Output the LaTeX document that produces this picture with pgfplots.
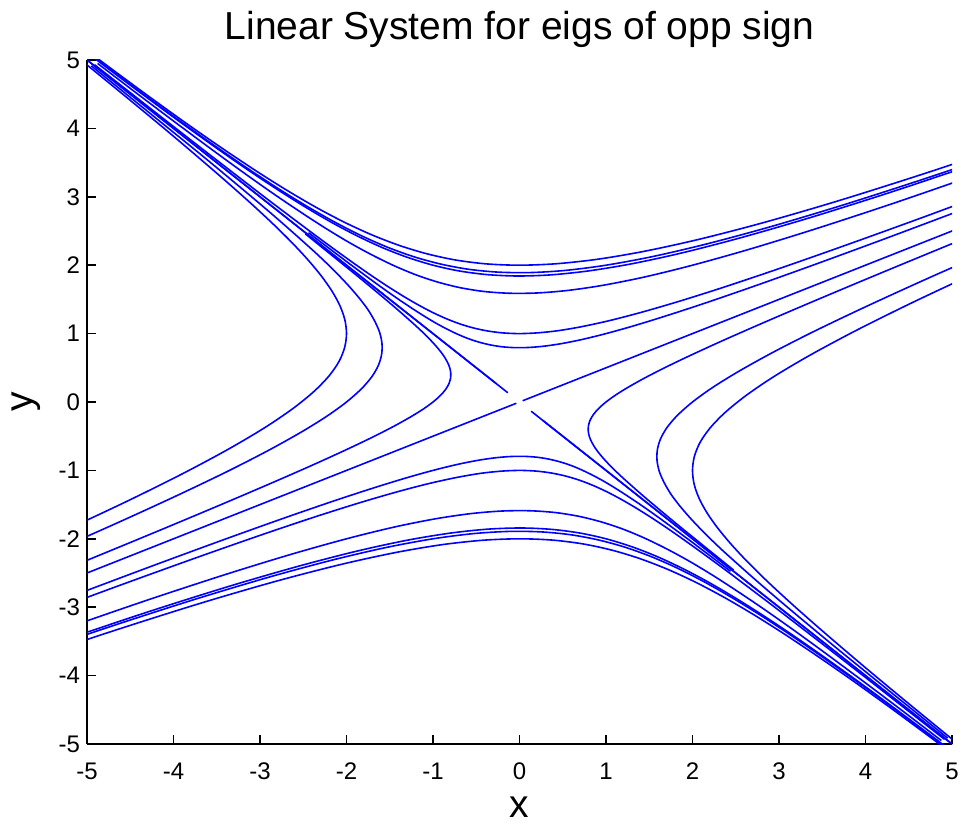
\documentclass[border=0pt]{standalone}
\usepackage{fontspec}
\setmainfont{Liberation Sans}
\usepackage{pgfplots}
\pgfplotsset{compat=1.18}
\begin{document}
\begin{tikzpicture}
\begin{axis}[
  scale only axis, width=432.5pt, height=342pt,
  xmin=-5, xmax=5, ymin=-5, ymax=5,
  axis x line*=bottom, axis y line*=left,
  axis line style={black, line width=0.8pt},
  tick align=inside, major tick length=4.5pt,
  tick style={black, line width=0.8pt},
  xtick={-5,-4,-3,-2,-1,0,1,2,3,4,5}, ytick={-5,-4,-3,-2,-1,0,1,2,3,4,5},
  xticklabels={-5,-4,-3,-2,-1,0,1,2,3,4,5},
  yticklabels={-5,-4,-3,-2,-1,0,1,2,3,4,5},
  tick label style={font=\fontsize{12}{14}\selectfont},
  xticklabel style={yshift=-6pt},
  title={Linear System for eigs of opp sign},
  every axis title/.style={at={(0.5,1)}, anchor=base, yshift=10.4pt, font=\fontsize{19.5}{23}\selectfont},
  xlabel={x},
  every axis x label/.style={at={(0.5,0)}, anchor=base, yshift=-36.5pt, inner sep=0pt, font=\fontsize{19.5}{23}\selectfont},
  cycle list={{blue, solid, line width=0.8pt, smooth, mark=none}},
  every axis plot post/.append style={blue, solid, line width=0.8pt, smooth, mark=none},
  after end axis/.code={\node[rotate=90, anchor=base, inner sep=0pt, font=\fontsize{19.5}{23}\selectfont] at ([xshift=-27pt]rel axis cs:0,0.5) {y};},
]
% stable manifold
\addplot coordinates {(-5.5,5.5) (-0.271,0.271)};
\addplot coordinates {(-5.5,5.5) (-0.135,0.135)};
\addplot coordinates {(5.5,-5.5) (0.271,-0.271)};
\addplot coordinates {(5.5,-5.5) (0.135,-0.135)};
% unstable manifold
\addplot coordinates {(0.0366,0.0183) (5.5,2.75)};
\addplot coordinates {(-0.0366,-0.0183) (-5.5,-2.75)};
% (0,2)
\addplot coordinates {(-5.326,5.447) (-4.793,4.942) (-4.306,4.487) (-3.858,4.079) (-3.444,3.715) (-3.059,3.390) (-2.698,3.102) (-2.356,2.849) (-2.028,2.630) (-1.708,2.444) (-1.390,2.289) (-1.068,2.166) (-0.735,2.075) (-0.382,2.019) (0,2) (0.422,2.021) (0.897,2.086) (1.442,2.203) (2.074,2.378) (2.816,2.621) (3.695,2.945) (4.745,3.366) (6.005,3.901)};
% (1,2)
\addplot coordinates {(-5.407,5.507) (-4.872,4.994) (-4.382,4.531) (-3.934,4.116) (-3.521,3.744) (-3.139,3.411) (-2.783,3.115) (-2.448,2.854) (-2.129,2.625) (-1.822,2.427) (-1.521,2.260) (-1.220,2.123) (-0.913,2.017) (-0.593,1.941) (-0.252,1.899) (0.119,1.892) (0.532,1.924) (1,2) (1.538,2.126) (2.165,2.311) (2.903,2.563) (3.781,2.896) (4.830,3.325) (6.092,3.869)};
% (-1,2)
\addplot coordinates {(-5.473,5.564) (-4.933,5.044) (-4.440,4.576) (-3.989,4.154) (-3.575,3.777) (-3.192,3.438) (-2.836,3.137) (-2.503,2.871) (-2.187,2.636) (-1.884,2.433) (-1.589,2.259) (-1.296,2.115) (-1,2) (-0.694,1.915) (-0.370,1.862) (-0.020,1.842) (0.367,1.859) (0.801,1.917) (1.299,2.021) (1.876,2.179) (2.553,2.400) (3.356,2.694) (4.313,3.076) (5.462,3.563)};
% (2,2)
\addplot coordinates {(-4.877,4.950) (-4.398,4.487) (-3.960,4.070) (-3.560,3.694) (-3.193,3.356) (-2.855,3.054) (-2.541,2.785) (-2.248,2.545) (-1.972,2.334) (-1.707,2.151) (-1.451,1.993) (-1.199,1.860) (-0.945,1.753) (-0.685,1.671) (-0.412,1.616) (-0.118,1.590) (0.204,1.594) (0.564,1.632) (0.973,1.708) (1.447,1.828) (2,2) (2.654,2.232) (3.432,2.535) (4.365,2.923) (5.488,3.414)};
% (0,1)
\addplot coordinates {(-4.914,4.932) (-4.442,4.465) (-4.015,4.042) (-3.627,3.660) (-3.275,3.316) (-2.955,3.004) (-2.663,2.724) (-2.397,2.471) (-2.153,2.244) (-1.929,2.040) (-1.722,1.857) (-1.530,1.695) (-1.349,1.551) (-1.178,1.425) (-1.014,1.315) (-0.854,1.222) (-0.695,1.144) (-0.534,1.083) (-0.367,1.038) (-0.191,1.010) (0,1) (0.211,1.011) (0.449,1.043) (0.721,1.102) (1.037,1.189) (1.408,1.311) (1.848,1.473) (2.373,1.683) (3.003,1.951) (3.762,2.288) (4.681,2.708) (5.795,3.230)};
% (1,1)
\addplot coordinates {(-2.439,2.475) (-2.199,2.244) (-1.980,2.035) (-1.780,1.847) (-1.597,1.678) (-1.428,1.527) (-1.271,1.393) (-1.124,1.273) (-0.986,1.167) (-0.854,1.076) (-0.726,0.997) (-0.600,0.930) (-0.473,0.877) (-0.343,0.836) (-0.206,0.808) (-0.059,0.795) (0.102,0.797) (0.282,0.816) (0.487,0.854) (0.723,0.914) (1,1) (1.327,1.116) (1.716,1.268) (2.183,1.462) (2.744,1.707) (3.422,2.014) (4.244,2.396) (5.241,2.869)};
% (1,0)
\addplot coordinates {(2.475,-2.457) (2.244,-2.221) (2.035,-2.007) (1.847,-1.814) (1.678,-1.637) (1.527,-1.477) (1.392,-1.331) (1.273,-1.198) (1.167,-1.077) (1.075,-0.965) (0.996,-0.861) (0.930,-0.765) (0.876,-0.675) (0.836,-0.589) (0.808,-0.507) (0.795,-0.427) (0.797,-0.348) (0.816,-0.267) (0.854,-0.184) (0.914,-0.096) (1,0) (1.116,0.106) (1.267,0.224) (1.462,0.361) (1.707,0.519) (2.014,0.704) (2.396,0.924) (2.869,1.186) (3.452,1.501) (4.169,1.881) (5.049,2.340) (6.128,2.897)};
% (2,0)
\addplot coordinates {(4.950,-4.914) (4.488,-4.442) (4.070,-4.014) (3.694,-3.628) (3.356,-3.274) (3.054,-2.954) (2.784,-2.662) (2.546,-2.396) (2.334,-2.154) (2.150,-1.930) (1.992,-1.722) (1.860,-1.530) (1.752,-1.350) (1.672,-1.178) (1.616,-1.014) (1.590,-0.854) (1.594,-0.696) (1.632,-0.534) (1.708,-0.368) (1.828,-0.192) (2,0) (2.232,0.212) (2.534,0.448) (2.924,0.722) (3.414,1.038) (4.028,1.408) (4.792,1.848) (5.738,2.372)};
% (2,-1)
\addplot coordinates {(5.447,-5.387) (4.942,-4.868) (4.487,-4.397) (4.079,-3.969) (3.715,-3.579) (3.390,-3.224) (3.102,-2.900) (2.849,-2.603) (2.630,-2.329) (2.444,-2.076) (2.289,-1.839) (2.166,-1.617) (2.075,-1.405) (2.019,-1.201) (2,-1) (2.021,-0.799) (2.086,-0.594) (2.203,-0.380) (2.378,-0.152) (2.621,0.097) (2.945,0.375) (3.366,0.690) (3.901,1.052) (4.575,1.474) (5.417,1.973)};
% (0,-2)
\addplot coordinates {(5.326,-5.447) (4.793,-4.942) (4.306,-4.487) (3.858,-4.079) (3.444,-3.715) (3.059,-3.390) (2.698,-3.102) (2.356,-2.849) (2.028,-2.630) (1.708,-2.444) (1.390,-2.289) (1.068,-2.166) (0.735,-2.075) (0.382,-2.019) (0,-2) (-0.422,-2.021) (-0.897,-2.086) (-1.442,-2.203) (-2.074,-2.378) (-2.816,-2.621) (-3.695,-2.945) (-4.745,-3.366) (-6.005,-3.901)};
% (-1,-2)
\addplot coordinates {(5.407,-5.507) (4.872,-4.994) (4.382,-4.531) (3.934,-4.116) (3.521,-3.744) (3.139,-3.411) (2.783,-3.115) (2.448,-2.854) (2.129,-2.625) (1.822,-2.427) (1.521,-2.260) (1.220,-2.123) (0.913,-2.017) (0.593,-1.941) (0.252,-1.899) (-0.119,-1.892) (-0.532,-1.924) (-1,-2) (-1.538,-2.126) (-2.165,-2.311) (-2.903,-2.563) (-3.781,-2.896) (-4.830,-3.325) (-6.092,-3.869)};
% (1,-2)
\addplot coordinates {(5.473,-5.564) (4.933,-5.044) (4.440,-4.576) (3.989,-4.154) (3.575,-3.777) (3.192,-3.438) (2.836,-3.137) (2.503,-2.871) (2.187,-2.636) (1.884,-2.433) (1.589,-2.259) (1.296,-2.115) (1,-2) (0.694,-1.915) (0.370,-1.862) (0.020,-1.842) (-0.367,-1.859) (-0.801,-1.917) (-1.299,-2.021) (-1.876,-2.179) (-2.553,-2.400) (-3.356,-2.694) (-4.313,-3.076) (-5.462,-3.563)};
% (-2,-2)
\addplot coordinates {(4.877,-4.950) (4.398,-4.487) (3.960,-4.070) (3.560,-3.694) (3.193,-3.356) (2.855,-3.054) (2.541,-2.785) (2.248,-2.545) (1.972,-2.334) (1.707,-2.151) (1.451,-1.993) (1.199,-1.860) (0.945,-1.753) (0.685,-1.671) (0.412,-1.616) (0.118,-1.590) (-0.204,-1.594) (-0.564,-1.632) (-0.973,-1.708) (-1.447,-1.828) (-2,-2) (-2.654,-2.232) (-3.432,-2.535) (-4.365,-2.923) (-5.488,-3.414)};
% (0,-1)
\addplot coordinates {(4.914,-4.932) (4.442,-4.465) (4.015,-4.042) (3.627,-3.660) (3.275,-3.316) (2.955,-3.004) (2.663,-2.724) (2.397,-2.471) (2.153,-2.244) (1.929,-2.040) (1.722,-1.857) (1.530,-1.695) (1.349,-1.551) (1.178,-1.425) (1.014,-1.315) (0.854,-1.222) (0.695,-1.144) (0.534,-1.083) (0.367,-1.038) (0.191,-1.010) (0,-1) (-0.211,-1.011) (-0.449,-1.043) (-0.721,-1.102) (-1.037,-1.189) (-1.408,-1.311) (-1.848,-1.473) (-2.373,-1.683) (-3.003,-1.951) (-3.762,-2.288) (-4.681,-2.708) (-5.795,-3.230)};
% (-1,-1)
\addplot coordinates {(2.439,-2.475) (2.199,-2.244) (1.980,-2.035) (1.780,-1.847) (1.597,-1.678) (1.428,-1.527) (1.271,-1.393) (1.124,-1.273) (0.986,-1.167) (0.854,-1.076) (0.726,-0.997) (0.600,-0.930) (0.473,-0.877) (0.343,-0.836) (0.206,-0.808) (0.059,-0.795) (-0.102,-0.797) (-0.282,-0.816) (-0.487,-0.854) (-0.723,-0.914) (-1,-1) (-1.327,-1.116) (-1.716,-1.268) (-2.183,-1.462) (-2.744,-1.707) (-3.422,-2.014) (-4.244,-2.396) (-5.241,-2.869)};
% (-1,0)
\addplot coordinates {(-2.475,2.457) (-2.244,2.221) (-2.035,2.007) (-1.847,1.814) (-1.678,1.637) (-1.527,1.477) (-1.392,1.331) (-1.273,1.198) (-1.167,1.077) (-1.075,0.965) (-0.996,0.861) (-0.930,0.765) (-0.876,0.675) (-0.836,0.589) (-0.808,0.507) (-0.795,0.427) (-0.797,0.348) (-0.816,0.267) (-0.854,0.184) (-0.914,0.096) (-1,0) (-1.116,-0.106) (-1.267,-0.224) (-1.462,-0.361) (-1.707,-0.519) (-2.014,-0.704) (-2.396,-0.924) (-2.869,-1.186) (-3.452,-1.501) (-4.169,-1.881) (-5.049,-2.340) (-6.128,-2.897)};
% (-2,0)
\addplot coordinates {(-4.950,4.914) (-4.488,4.442) (-4.070,4.014) (-3.694,3.628) (-3.356,3.274) (-3.054,2.954) (-2.784,2.662) (-2.546,2.396) (-2.334,2.154) (-2.150,1.930) (-1.992,1.722) (-1.860,1.530) (-1.752,1.350) (-1.672,1.178) (-1.616,1.014) (-1.590,0.854) (-1.594,0.696) (-1.632,0.534) (-1.708,0.368) (-1.828,0.192) (-2,0) (-2.232,-0.212) (-2.534,-0.448) (-2.924,-0.722) (-3.414,-1.038) (-4.028,-1.408) (-4.792,-1.848) (-5.738,-2.372)};
% (-2,1)
\addplot coordinates {(-5.447,5.387) (-4.942,4.868) (-4.487,4.397) (-4.079,3.969) (-3.715,3.579) (-3.390,3.224) (-3.102,2.900) (-2.849,2.603) (-2.630,2.329) (-2.444,2.076) (-2.289,1.839) (-2.166,1.617) (-2.075,1.405) (-2.019,1.201) (-2,1) (-2.021,0.799) (-2.086,0.594) (-2.203,0.380) (-2.378,0.152) (-2.621,-0.097) (-2.945,-0.375) (-3.366,-0.690) (-3.901,-1.052) (-4.575,-1.474) (-5.417,-1.973)};
\end{axis}
\pgfresetboundingbox
\useasboundingbox (-43.5pt,-40pt) rectangle (437.5pt,372pt);
\end{tikzpicture}
\end{document}
